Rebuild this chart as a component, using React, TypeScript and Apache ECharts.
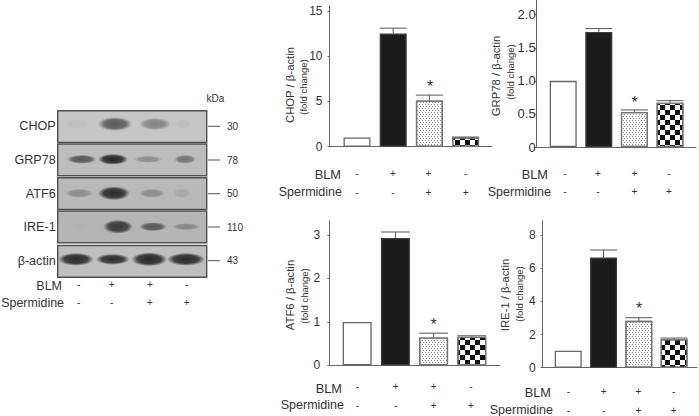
import React, { useEffect, useRef } from "react";
import * as echarts from "echarts";

const FONT = "Liberation Sans, Arial, sans-serif";
const TEXT = "#333333";
const AXIS = "#666666";

// chart data
const chopValues = [1.03, 12.5, 5.1, 1.03];
const chopErrorTops = [1.03, 13.1, 5.7, 1.07];
const chopTicks = [0, 5, 10, 15];
const grpValues = [1.0, 1.74, 0.53, 0.67];
const grpErrorTops = [1.0, 1.79, 0.56, 0.7];
const grpTicks = [0, 0.5, 1, 1.5, 2];
const atfValues = [1.0, 2.93, 0.64, 0.66];
const atfErrorTops = [1.0, 3.07, 0.74, 0.68];
const atfTicks = [0, 1, 2, 3];
const ireValues = [1.03, 6.65, 2.83, 1.72];
const ireErrorTops = [1.03, 7.11, 3.02, 1.79];
const ireTicks = [0, 2, 4, 6, 8];
const blmSigns = ["-", "+", "+", "-"];
const spermidineSigns = ["-", "-", "+", "+"];

// blot
const proteins = ["CHOP", "GRP78", "ATF6", "IRE-1", "β-actin"];
const kDaLabels = ["30", "78", "50", "110", "43"];
const panelShades = ["#c6c6c6", "#bdbdbd", "#b9b9b9", "#b5b5b5", "#bfbfbf"];
// band intensity per lane
const chopBands = [0.05, 0.62, 0.38, 0.05];
const grpBands = [0.62, 0.92, 0.3, 0.45];
const atfBands = [0.28, 0.9, 0.28, 0.1];
const ireBands = [0.02, 0.8, 0.6, 0.3];
const actinBands = [0.9, 0.88, 0.92, 0.9];

const stippleDecal = {
  symbol: "rect",
  symbolSize: 1,
  dashArrayX: [[1, 2], [0, 2, 1, 0]],
  dashArrayY: [1, 1],
  color: "#8a8a8a",
  backgroundColor: "#ffffff",
  rotation: 0,
};
const checkerDecal = {
  symbol: "rect",
  symbolSize: 1,
  dashArrayX: [[5, 5], [0, 5, 5, 0]],
  dashArrayY: [5, 0],
  color: "#111111",
  backgroundColor: "#ffffff",
  rotation: 0,
};

type Panel = {
  name: string;
  values: number[];
  tops: number[];
  ticks: number[];
  fmt: (v: number) => string;
  left: number; right: number; top: number; bottom: number;
  yMax: number;
  c0: number; step: number; barW: number;
  labelMargin: number; labelSize: number;
  titleX: number; titleY: number; subX: number; subY: number;
  blmRight: number; blmY: number; spRight: number; spY: number;
  signX: number[]; signY1: number; signY2: number;
  starX: number; starY: number;
};

const panels: Panel[] = [
  { name: "CHOP / β-actin", values: chopValues, tops: chopErrorTops, ticks: chopTicks, fmt: (v) => String(v),
    left: 329.5, right: 492, top: 6, bottom: 146.7, yMax: 15.55, c0: 357, step: 36.2, barW: 27, labelMargin: 7, labelSize: 12,
    titleX: 290, titleY: 85, subX: 303, subY: 87,
    blmRight: 341, blmY: 174.5, spRight: 342, spY: 191.5, signX: [357, 393, 428.5, 465.7], signY1: 173, signY2: 192,
    starX: 430, starY: 86 },
  { name: "GRP78 / β-actin", values: grpValues, tops: grpErrorTops, ticks: grpTicks, fmt: (v) => (v === 0 ? "0" : v.toFixed(1)),
    left: 536.7, right: 696, top: 0, bottom: 147, yMax: 2.222, c0: 563.2, step: 35.6, barW: 27, labelMargin: 1, labelSize: 13,
    titleX: 496, titleY: 76, subX: 510, subY: 72,
    blmRight: 548, blmY: 174.5, spRight: 551, spY: 191.5, signX: [565, 598, 634.3, 669], signY1: 173, signY2: 191,
    starX: 634.5, starY: 102 },
  { name: "ATF6 / β-actin", values: atfValues, tops: atfErrorTops, ticks: atfTicks, fmt: (v) => String(v),
    left: 329.3, right: 500, top: 220.7, bottom: 365.3, yMax: 3.33, c0: 357.2, step: 38.2, barW: 29, labelMargin: 9, labelSize: 12,
    titleX: 290, titleY: 295, subX: 304, subY: 296,
    blmRight: 342, blmY: 388, spRight: 344, spY: 405, signX: [357.3, 395.7, 433.7, 471], signY1: 386.5, signY2: 405,
    starX: 433.5, starY: 324 },
  { name: "IRE-1 / β-actin", values: ireValues, tops: ireErrorTops, ticks: ireTicks, fmt: (v) => String(v),
    left: 542.7, right: 697, top: 220.7, bottom: 367.7, yMax: 8.88, c0: 568.2, step: 35.3, barW: 27, labelMargin: 7, labelSize: 12,
    titleX: 505, titleY: 295, subX: 519, subY: 294,
    blmRight: 551, blmY: 392, spRight: 553, spY: 409.5, signX: [568.3, 603.7, 638.3, 673.7], signY1: 391, signY2: 410,
    starX: 639, starY: 308 },
];

const W = 699;
const H = 416;

function buildOption() {
  const grid: any[] = [];
  const xAxis: any[] = [];
  const yAxis: any[] = [];
  const series: any[] = [];
  const graphic: any[] = [];

  const txt = (text: string, x: number, y: number, size: number, align = "left", extra: any = {}) => ({
    type: "text", x, y, silent: true,
    style: { text, fontSize: size, fontFamily: FONT, fill: TEXT, align, verticalAlign: "middle", textAlign: align, textVerticalAlign: "middle" },
    ...extra,
  });

  panels.forEach((p, i) => {
    grid.push({ left: p.left, top: p.top, width: p.right - p.left, height: p.bottom - p.top });
    xAxis.push({
      type: "value", gridIndex: i,
      min: (p.left - p.c0) / p.step, max: (p.right - p.c0) / p.step,
      splitLine: { show: false }, axisTick: { show: false }, axisLabel: { show: false },
      axisLine: { show: true, onZero: false, lineStyle: { color: AXIS, width: 1 } },
    });
    yAxis.push({
      type: "value", gridIndex: i, min: 0, max: p.yMax,
      splitLine: { show: false },
      axisLine: { show: true, onZero: false, lineStyle: { color: AXIS, width: 1 } },
      axisTick: { show: true, length: 2, customValues: p.ticks, lineStyle: { color: AXIS } },
      axisLabel: { customValues: p.ticks, margin: p.labelMargin, fontSize: p.labelSize, fontFamily: FONT, color: TEXT, formatter: (v: number) => p.fmt(v) },
    });
    const decals = [null, null, stippleDecal, checkerDecal];
    series.push({
      type: "bar", xAxisIndex: i, yAxisIndex: i, barWidth: p.barW, silent: true,
      data: p.values.map((v, k) => ({
        value: [k, v],
        itemStyle: {
          color: k === 1 ? "#1c1c1c" : "#ffffff",
          borderColor: k === 0 ? "#666666" : k === 1 ? "#3a3a3a" : "#777777",
          borderWidth: 1.3,
          decal: decals[k] || undefined,
        },
      })),
    });
    series.push({
      type: "custom", xAxisIndex: i, yAxisIndex: i, silent: true, z: 3,
      data: p.tops.map((t, k) => [k, t, p.values[k]]),
      renderItem: (_: any, api: any) => {
        const k = api.value(0), t = api.value(1), v = api.value(2);
        if (t <= v) return { type: "group", children: [] };
        const a = api.coord([k, t]);
        const b = api.coord([k, v]);
        const hw = p.barW / 2;
        const style = { stroke: "#555555", lineWidth: 1, fill: "none" };
        return {
          type: "group",
          children: [
            { type: "line", shape: { x1: a[0], y1: a[1], x2: b[0], y2: b[1] }, style },
            { type: "line", shape: { x1: a[0] - hw, y1: a[1], x2: a[0] + hw, y2: a[1] }, style },
          ],
        };
      },
    });
    graphic.push(txt(p.name, p.titleX, p.titleY, 11.3, "center", { rotation: Math.PI / 2 }));
    graphic.push(txt("(fold change)", p.subX, p.subY, 9.5, "center", { rotation: Math.PI / 2 }));
    graphic.push(txt("BLM", p.blmRight, p.blmY, 12.8, "right"));
    graphic.push(txt("Spermidine", p.spRight, p.spY, 12.5, "right"));
    blmSigns.forEach((s, k) => graphic.push(txt(s, p.signX[k], p.signY1, 10, "center")));
    spermidineSigns.forEach((s, k) => graphic.push(txt(s, p.signX[k], p.signY2, 10, "center")));
    graphic.push(txt("*", p.starX, p.starY, 16, "center"));
  });

  // western blot panels
  const panelTops = [110.7, 144, 177.7, 211, 245.5];
  const panelH = 31.7;
  const blotL = 57.7, blotR = 206.7;
  const bandRows = [chopBands, grpBands, atfBands, ireBands, actinBands];
  const laneX = [
    [77, 115, 155, 183],
    [81.7, 113, 148, 185],
    [79, 114, 152, 181.7],
    [80, 118, 153, 186],
    [76, 112.7, 149.3, 186],
  ];
  const laneRx = [
    [12, 17, 16, 8],
    [15, 15, 14, 11],
    [14, 16, 13, 9],
    [10, 15, 14, 14],
    [18, 17, 18, 19],
  ];
  const laneRy = [
    [5, 7, 6, 5],
    [4.5, 5.5, 3.5, 4.5],
    [4.5, 7, 4.5, 5],
    [4, 7, 4.5, 3.5],
    [6.5, 5.5, 7, 6.5],
  ];
  const bandY = [124, 159.3, 193.3, 226.7, 259.3];
  proteins.forEach((name, r) => {
    graphic.push({
      type: "rect", silent: true,
      shape: { x: blotL, y: panelTops[r], width: blotR - blotL, height: panelH },
      style: { fill: panelShades[r], stroke: "#505050", lineWidth: 1.4 },
    });
    bandRows[r].forEach((a, k) => {
      graphic.push({
        type: "ellipse", silent: true,
        shape: { cx: laneX[r][k], cy: bandY[r], rx: laneRx[r][k], ry: laneRy[r][k] },
        style: {
          fill: {
            type: "radial", x: 0.5, y: 0.5, r: 0.5,
            colorStops: [
              { offset: 0, color: `rgba(25,25,25,${a})` },
              { offset: 0.65, color: `rgba(25,25,25,${a * 0.85})` },
              { offset: 1, color: "rgba(25,25,25,0)" },
            ],
          },
        },
      });
    });
    const midY = [126.3, 160, 193.7, 227, 260.7][r];
    graphic.push(txt(name, 55.7, midY, 12.6, "right"));
    graphic.push({ type: "line", silent: true, shape: { x1: 208, y1: midY, x2: 220, y2: midY }, style: { stroke: "#555555", lineWidth: 1 } });
    graphic.push(txt(kDaLabels[r], 227, midY, 10, "left"));
  });
  graphic.push(txt("kDa", 206.5, 98, 10, "left"));
  graphic.push(txt("BLM", 62, 285.5, 12.5, "right"));
  graphic.push(txt("Spermidine", 64, 302.5, 12.4, "right"));
  const blotSigns = [78.7, 111.7, 150, 186.7];
  blmSigns.forEach((s, k) => graphic.push(txt(s, blotSigns[k], 284.5, 10, "center")));
  spermidineSigns.forEach((s, k) => graphic.push(txt(s, blotSigns[k], 302.5, 10, "center")));

  return { animation: false, backgroundColor: "#ffffff", grid, xAxis, yAxis, series, graphic };
}

export default function App() {
  const ref = useRef<HTMLDivElement>(null);
  useEffect(() => {
    const chart = echarts.init(ref.current!, null, { renderer: "svg", width: W, height: H });
    chart.setOption(buildOption() as any);
    return () => chart.dispose();
  }, []);
  return <div ref={ref} style={{ position: "absolute", left: 0, top: 0, width: W, height: H }} />;
}
